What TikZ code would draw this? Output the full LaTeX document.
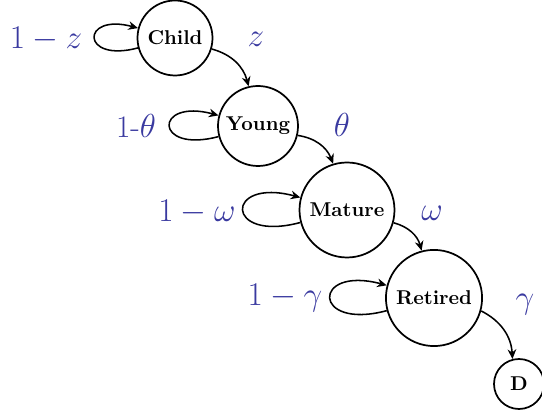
\documentclass[tikz,border=0pt]{standalone}
\usetikzlibrary{arrows.meta}
\definecolor{labelblue}{RGB}{58,58,160}
\begin{document}
\begin{tikzpicture}[x=0.52pt,y=-0.52pt,
  state/.style={circle,draw,line width=0.9pt,inner sep=0pt,font=\fontsize{10.4}{12}\selectfont\bfseries},
  trans/.style={line width=0.8pt,-{Stealth[length=5pt,width=4.5pt]}},
  selfloop/.style={trans,out=195,in=165,distance=#1},
  prob/.style={text=labelblue,font=\fontsize{16.3}{19}\selectfont,inner sep=0pt}]
\useasboundingbox (0,0) rectangle (542,416);

% states
\node[state,minimum size=39pt]   (child)   at (175,38)  {Child};
\node[state,minimum size=41.6pt] (young)   at (258,126) {Young};
\node[state,minimum size=49.4pt] (mature)  at (347,210) {Mature};
\node[state,minimum size=50pt]   (retired) at (434,298) {Retired};
\node[state,minimum size=26pt]   (dead)    at (519,384) {D};

% transitions to the next state
\draw[trans] (child)   to[bend left=30] (young);
\draw[trans] (young)   to[bend left=30] (mature);
\draw[trans] (mature)  to[bend left=30] (retired);
\draw[trans] (retired) to[bend left=30] (dead);

% staying in the same state
\draw[selfloop=31pt]   (child)   to (child);
\draw[selfloop=35pt]   (young)   to (young);
\draw[selfloop=41pt]   (mature)  to (mature);
\draw[selfloop=40.5pt] (retired) to (retired);

% probabilities
\node[prob] (pz)  at (46,39)   {$1-z$};
\node[prob] (pz2) at (256,39)  {$z$};
\node[prob] (pt)  at (136,126) {1-$\theta$};
\node[prob] (pt2) at (342,125) {$\theta$};
\node[prob] (pw)  at (197,212) {$1-\omega$};
\node[prob] (pw2) at (432,213) {$\omega$};
\node[prob] (pg)  at (285,298) {$1-\gamma$};
\node[prob] (pg2) at (525,305) {$\gamma$};
\end{tikzpicture}
\end{document}
